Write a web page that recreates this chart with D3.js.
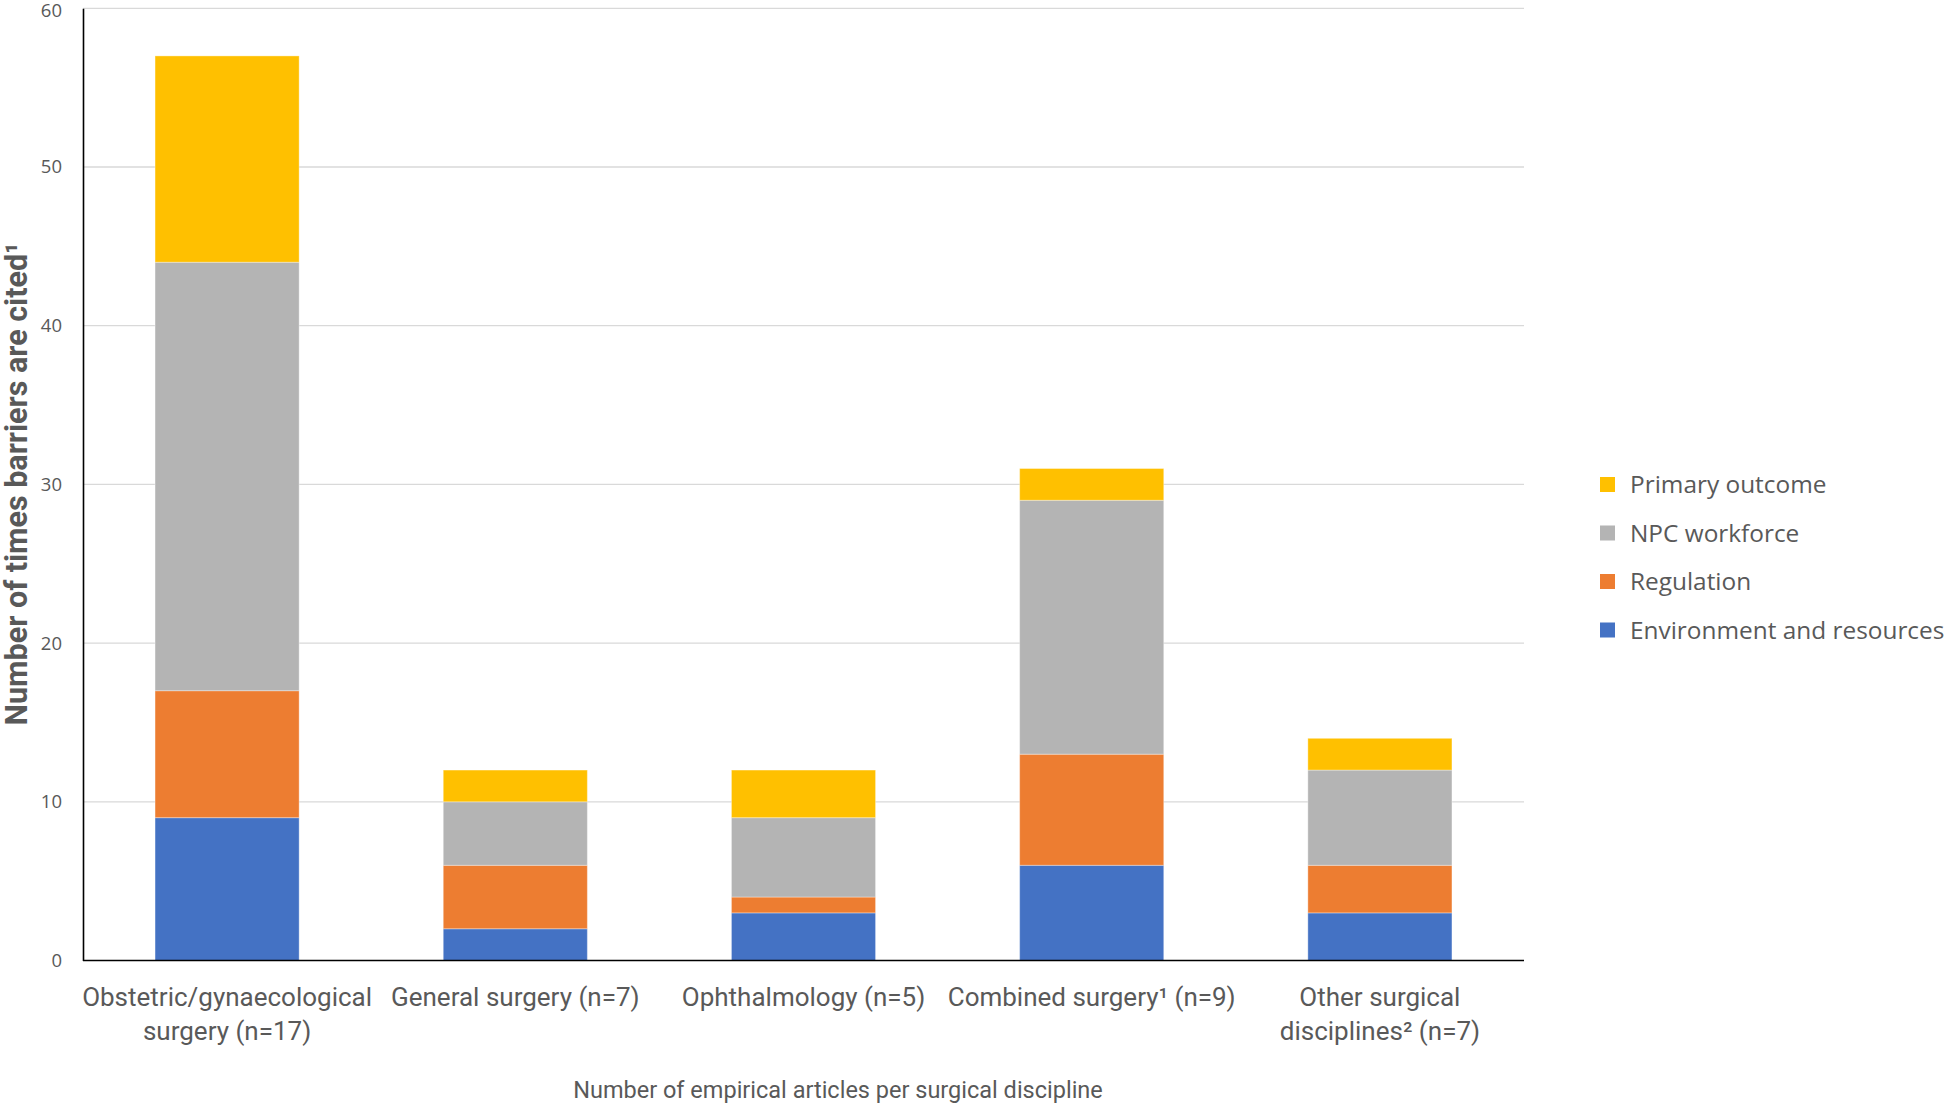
<!DOCTYPE html>
<html><head><meta charset="utf-8">
<script src="https://cdn.jsdelivr.net/npm/d3@7"></script>
<style>body{margin:0;background:#fff}</style>
</head><body>
<svg id="c" width="1946" height="1105"></svg>
<script>
const categories = [
  ["Obstetric/gynaecological", "surgery (n=17)"],
  ["General surgery (n=7)"],
  ["Ophthalmology (n=5)"],
  ["Combined surgery\u00b9 (n=9)"],
  ["Other surgical", "disciplines\u00b2 (n=7)"]
];
const seriesNames = ["Environment and resources", "Regulation", "NPC workforce", "Primary outcome"];
const environment = [9, 2, 3, 6, 3];
const regulation  = [8, 4, 1, 7, 3];
const npcWorkforce = [27, 4, 5, 16, 6];
const primaryOutcome = [13, 2, 3, 2, 2];
const yTicks = [0, 10, 20, 30, 40, 50, 60];
const colors = ["#4472C4", "#ED7D31", "#B4B4B4", "#FFC000"];

const svg = d3.select("#c");
const L = 83, R = 1524, T = 8.3, B = 960.5;
const x = d3.scaleBand().domain(d3.range(categories.length)).range([L, R]).paddingInner(0.5).paddingOuter(0.25);
const y = d3.scaleLinear().domain([0, 60]).range([B, T]);

// gridlines
svg.append("g").selectAll("line").data(yTicks.filter(d => d > 0)).join("line")
  .attr("x1", L).attr("x2", R).attr("y1", d => y(d)).attr("y2", d => y(d))
  .attr("stroke", "#d9d9d9").attr("stroke-width", 1.3);

const table = categories.map((c, i) => ({i, s0: environment[i], s1: regulation[i], s2: npcWorkforce[i], s3: primaryOutcome[i]}));
const stack = d3.stack().keys(["s0", "s1", "s2", "s3"])(table);

svg.append("g").selectAll("g").data(stack).join("g")
  .attr("fill", (d, k) => colors[k])
  .selectAll("rect").data(d => d).join("rect")
  .attr("x", d => x(d.data.i)).attr("width", x.bandwidth())
  .attr("y", d => y(d[1])).attr("height", d => y(d[0]) - y(d[1]))
  .attr("stroke", "#ffffff").attr("stroke-opacity", 0.35).attr("stroke-width", 1);

// y axis
const yAxis = svg.append("g").attr("transform", `translate(${L},0)`)
  .call(d3.axisLeft(y).tickValues(yTicks).tickSize(0).tickPadding(21));
yAxis.select(".domain").attr("stroke", "#000").attr("stroke-width", 1.6);
yAxis.selectAll("text").attr("font-family", "'Open Sans', sans-serif").attr("font-size", 18.5).attr("fill", "#595959")
  .attr("dy", d => d === 60 ? "0.45em" : "0.32em");

// x axis line
svg.append("line").attr("x1", L).attr("x2", R).attr("y1", B).attr("y2", B).attr("stroke", "#000").attr("stroke-width", 1.6);

// category labels
const catFont = "'Liberation Sans Narrow', 'Arial Narrow', 'Roboto', sans-serif";
const cl = svg.append("g").selectAll("text").data(categories).join("text")
  .attr("text-anchor", "middle")
  .attr("font-family", catFont).attr("font-size", 26).attr("fill", "#595959")
  .attr("transform", (d, i) => `translate(${x(i) + x.bandwidth() / 2},0)`);
cl.selectAll("tspan").data(d => d).join("tspan")
  .attr("x", 0).attr("y", (d, j) => 1006 + j * 34).text(d => d);

// x title
svg.append("text").attr("x", 838).attr("y", 1098).attr("text-anchor", "middle")
  .attr("font-family", catFont).attr("font-size", 23.5).attr("fill", "#595959")
  .text("Number of empirical articles per surgical discipline");

// y title
svg.append("text").attr("transform", "translate(27,484) rotate(-90)").attr("text-anchor", "middle")
  .attr("font-family", catFont).attr("font-weight", "bold").attr("font-size", 30.5).attr("fill", "#595959")
  .text("Number of times barriers are cited\u00b9");

// legend
const legendOrder = [3, 2, 1, 0];
const lg = svg.append("g").selectAll("g").data(legendOrder).join("g")
  .attr("transform", (d, j) => `translate(1600,${484.5 + j * 48.5})`);
lg.append("rect").attr("x", 0).attr("y", -7.5).attr("width", 15).attr("height", 15).attr("fill", d => colors[d]);
lg.append("text").attr("x", 30).attr("y", 0).attr("dy", "0.35em")
  .attr("font-family", "'Open Sans', sans-serif").attr("font-size", 24.4).attr("fill", "#595959")
  .text(d => seriesNames[d]);
</script>
</body></html>
